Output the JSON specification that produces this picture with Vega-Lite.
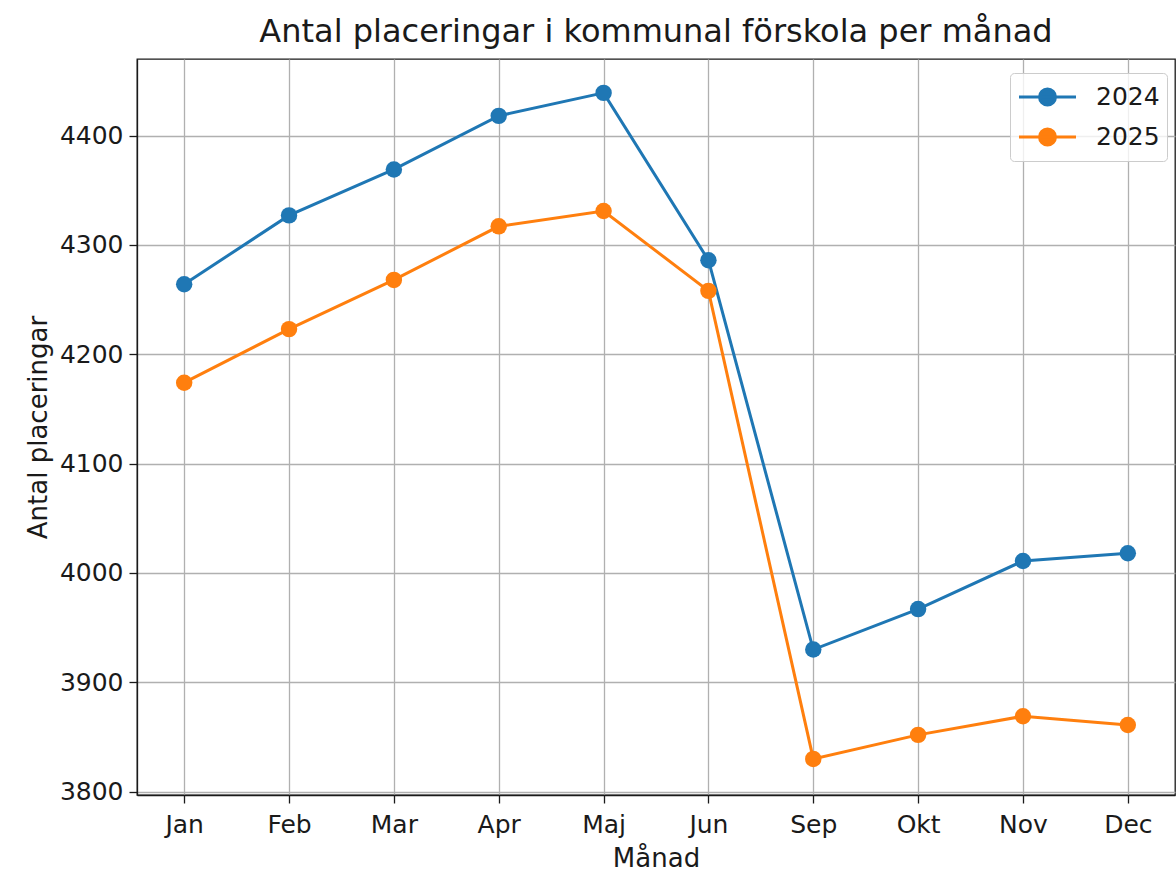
{
  "$schema": "https://vega.github.io/schema/vega-lite/v6.json",
  "width": 1038,
  "height": 736,
  "autosize": {"type": "none"},
  "padding": {"left": 137, "top": 59, "right": 1, "bottom": 77},
  "background": "white",
  "title": {"text": "Antal placeringar i kommunal förskola per månad", "font": "DejaVu Sans", "fontSize": 32, "fontWeight": "normal", "color": "#1a1a1a", "offset": 10},
  "data": {"values": [
    {"Månad": "Jan", "År": "2024", "v": 4264},
    {"Månad": "Feb", "År": "2024", "v": 4327},
    {"Månad": "Mar", "År": "2024", "v": 4369},
    {"Månad": "Apr", "År": "2024", "v": 4418},
    {"Månad": "Maj", "År": "2024", "v": 4439},
    {"Månad": "Jun", "År": "2024", "v": 4286},
    {"Månad": "Sep", "År": "2024", "v": 3930},
    {"Månad": "Okt", "År": "2024", "v": 3967},
    {"Månad": "Nov", "År": "2024", "v": 4011},
    {"Månad": "Dec", "År": "2024", "v": 4018},
    {"Månad": "Jan", "År": "2025", "v": 4174},
    {"Månad": "Feb", "År": "2025", "v": 4223},
    {"Månad": "Mar", "År": "2025", "v": 4268},
    {"Månad": "Apr", "År": "2025", "v": 4317},
    {"Månad": "Maj", "År": "2025", "v": 4331},
    {"Månad": "Jun", "År": "2025", "v": 4258},
    {"Månad": "Sep", "År": "2025", "v": 3830},
    {"Månad": "Okt", "År": "2025", "v": 3852},
    {"Månad": "Nov", "År": "2025", "v": 3869},
    {"Månad": "Dec", "År": "2025", "v": 3861}
  ]},
  "encoding": {
    "x": {"field": "Månad", "type": "ordinal", "sort": ["Jan","Feb","Mar","Apr","Maj","Jun","Sep","Okt","Nov","Dec"],
      "scale": {"type": "point", "padding": 0.45},
      "axis": {"title": "Månad", "labelAngle": 0, "grid": true, "labelPadding": 9, "titlePadding": 8}},
    "y": {"field": "v", "type": "quantitative",
      "scale": {"domain": [3797, 4470], "nice": false, "zero": false},
      "axis": {"title": "Antal placeringar", "values": [3800,3900,4000,4100,4200,4300,4400], "format": "d", "grid": true, "labelPadding": 6, "titlePadding": 8}},
    "color": {"field": "År", "type": "nominal",
      "scale": {"domain": ["2024","2025"], "range": ["#1f77b4","#ff7f0e"]},
      "legend": {"title": null, "orient": "none", "legendX": 873, "legendY": 14,
        "symbolType": "M-1,0L1,0M0.28,0A0.28,0.28 0 1 1 -0.28,0A0.28,0.28 0 1 1 0.28,0Z",
        "symbolSize": 3250, "symbolStrokeWidth": 3, "symbolOpacity": 1, "clipHeight": 34,
        "labelFont": "DejaVu Sans", "labelFontSize": 25, "labelColor": "#1a1a1a", "labelOffset": 18,
        "rowPadding": 6, "padding": 7,
        "fillColor": "rgba(255,255,255,0.8)", "strokeColor": "#cccccc", "cornerRadius": 4}}
  },
  "layer": [
    {"mark": {"type": "line", "strokeWidth": 3}},
    {"mark": {"type": "point", "filled": true, "size": 270, "opacity": 1}}
  ],
  "config": {
    "view": {"stroke": "#1a1a1a", "strokeWidth": 1.3},
    "axis": {
      "labelFont": "DejaVu Sans", "labelFontSize": 25, "labelColor": "#1a1a1a",
      "titleFont": "DejaVu Sans", "titleFontSize": 26, "titleFontWeight": "normal", "titleColor": "#1a1a1a",
      "gridColor": "#b0b0b0", "gridWidth": 1.3, "gridOpacity": 1,
      "domainColor": "#1a1a1a", "domainWidth": 1.3,
      "tickColor": "#1a1a1a", "tickSize": 8, "tickWidth": 1.3
    }
  }
}
